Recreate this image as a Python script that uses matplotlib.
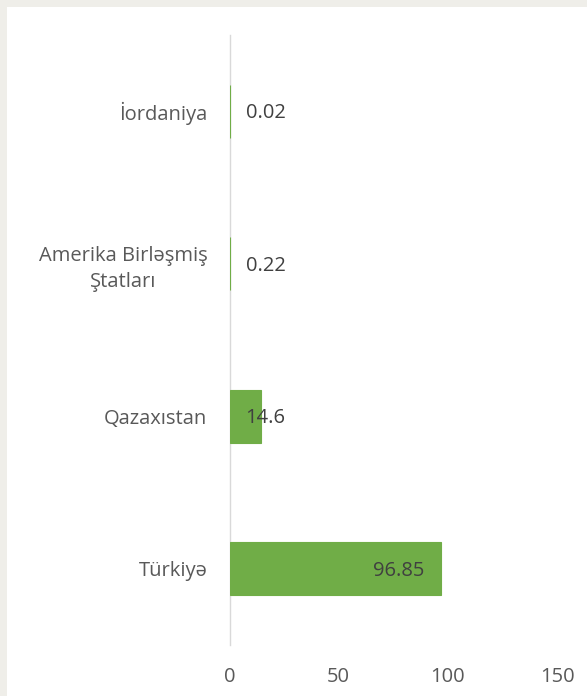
import matplotlib.pyplot as plt
from matplotlib.transforms import offset_copy

# data (bottom to top, as drawn)
countries = ["Türkiyə", "Qazaxıstan", "Amerika Birləşmiş\nŞtatları", "İordaniya"]
values = [96.85, 14.6, 0.22, 0.02]
xticks = [0, 50, 100, 150]

bar_color = "#70AD47"
text_color = "#595959"
fs = 14.5
plt.rcParams["font.family"] = ["Open Sans", "DejaVu Sans"]

fig = plt.figure(figsize=(5.87, 6.96), dpi=100, facecolor="#EFEEE9")

# white chart panel inside the grey frame
bg = fig.add_axes([7 / 587, 0, 1 - 7 / 587, 1 - 7 / 696], zorder=-1)
bg.set_facecolor("white")
bg.set_xticks([])
bg.set_yticks([])
for s in bg.spines.values():
    s.set_visible(False)

ax = fig.add_axes([229.5 / 587, 1 - 645 / 696, (557 - 229.5) / 587, (645 - 35) / 696])
ax.set_facecolor("none")

y = list(range(len(countries)))
ax.barh(y, values, height=0.35, color=bar_color, edgecolor=bar_color,
        linewidth=0.8, zorder=2)

ax.set_xlim(0, 150)
ax.set_ylim(-0.5, len(countries) - 0.5)
ax.set_xticks(xticks)
ax.set_yticks(y)
ax.set_yticklabels(countries, multialignment="center", linespacing=1.4)
ax.tick_params(axis="both", length=0, colors=text_color, labelsize=fs)
ax.tick_params(axis="x", pad=16)
ax.tick_params(axis="y", pad=16)

for s in ["top", "right", "bottom"]:
    ax.spines[s].set_visible(False)
ax.spines["left"].set_color("#D9D9D9")
ax.spines["left"].set_linewidth(1)
ax.spines["left"].set_zorder(1)

# data labels: inside end for the long bar, next to the axis for short ones
for yi, v in zip(y, values):
    lab = f"{v:g}"
    if v > 50:
        tr = offset_copy(ax.transData, fig=fig, x=-17, y=-2, units="dots")
        ax.text(v, yi, lab, ha="right", va="center", fontsize=fs, color="#404040",
                transform=tr, zorder=3)
    else:
        tr = offset_copy(ax.transData, fig=fig, x=16, y=-2, units="dots")
        ax.text(0, yi, lab, ha="left", va="center", fontsize=fs, color="#404040",
                transform=tr, zorder=3)

fig.savefig("out.png", dpi=100, facecolor=fig.get_facecolor())
